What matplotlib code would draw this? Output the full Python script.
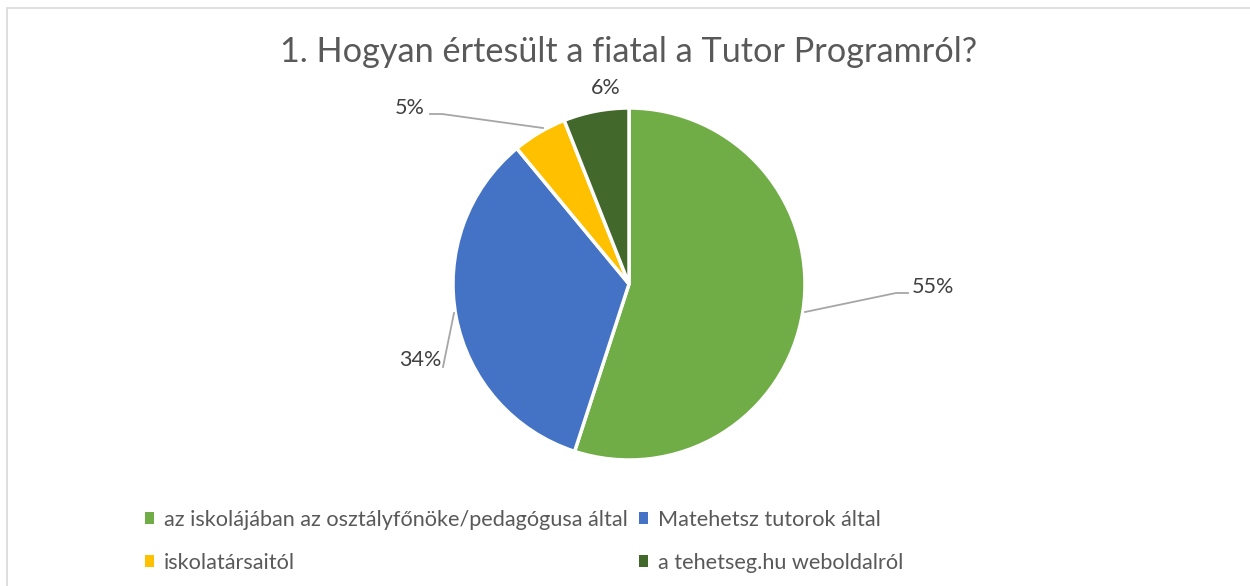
import matplotlib.pyplot as plt
from matplotlib.patches import Rectangle

title = '1. Hogyan értesült a fiatal a Tutor Programról?'
categories = ['az iskolájában az osztályfőnöke/pedagógusa által',
              'Matehetsz tutorok által',
              'iskolatársaitól',
              'a tehetseg.hu weboldalról']
values = [55, 34, 5, 6]
colors = ['#70AD47', '#4472C4', '#FFC000', '#43682B']

W, H = 1250, 586
fig = plt.figure(figsize=(W / 100, H / 100), dpi=100)
ax = fig.add_axes([0, 0, 1, 1])
ax.set_xlim(0, W)
ax.set_ylim(0, H)
ax.axis('off')

font = 'Lato'

# outer chart border
ax.add_patch(Rectangle((6.5, -10), W + 20, H - 7.5 + 10, fill=False,
                       edgecolor='#D9D9D9', linewidth=1.2))

cx, cy, r = 629, H - 284, 176
wedges, _ = ax.pie(values, colors=colors, startangle=90, counterclock=False,
                   center=(cx, cy), radius=r,
                   wedgeprops=dict(edgecolor='white', linewidth=2.5))
ax.set_xlim(0, W)
ax.set_ylim(0, H)

ax.text(629, H - 52, title, ha='center', va='center', fontsize=24.7,
        color='#595959', family=font)

lbl = dict(fontsize=15.5, color='#404040', family=font, va='center')
line = dict(color='#A6A6A6', linewidth=1.3)

# 55%
ax.plot([805, 896, 908], [H - 312, H - 293, H - 293], **line)
ax.text(912, H - 287, f'{values[0]}%', ha='left', **lbl)
# 34%
ax.plot([454, 443], [H - 313, H - 367], **line)
ax.text(441, H - 360, f'{values[1]}%', ha='right', **lbl)
# 5%
ax.plot([430, 442, 543], [H - 114, H - 114, H - 128], **line)
ax.text(425, H - 108, f'{values[2]}%', ha='right', **lbl)
# 6%
ax.text(606, H - 88, f'{values[3]}%', ha='center', **lbl)

# legend fills column-wise, so reorder to read row by row
order = [0, 2, 1, 3]
leg = ax.legend([wedges[i] for i in order], [categories[i] for i in order],
                ncol=2, loc='upper left',
                bbox_to_anchor=(125 / W, 1 - 490 / H), frameon=False,
                handlelength=0.45, handleheight=0.45, handletextpad=0.45,
                columnspacing=0.5, labelspacing=1.07,
                prop=dict(family=font, size=15.6))
for t in leg.get_texts():
    t.set_color('#595959')
for h in leg.legend_handles:
    h.set_edgecolor('none')

fig.savefig('out.png', dpi=100)
